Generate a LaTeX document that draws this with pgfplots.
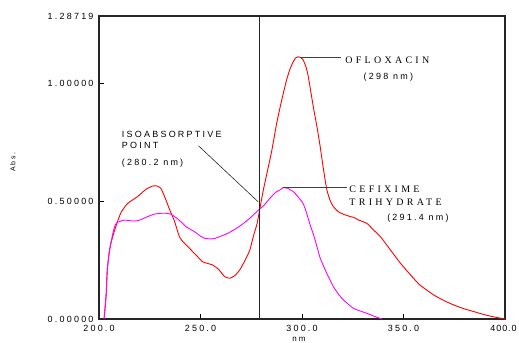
\documentclass[border=0pt]{standalone}
\usepackage{fontspec}
\setmainfont{Liberation Sans}
\newfontfamily\wsans[LetterSpace=25]{Liberation Sans}
\newfontfamily\nsans[LetterSpace=10]{Liberation Sans}
\newfontfamily\wserif[LetterSpace=33]{Liberation Serif}
\usepackage{pgfplots}
\pgfplotsset{compat=1.18}
\definecolor{cred}{RGB}{255,0,0}
\definecolor{cmag}{RGB}{255,0,255}
\begin{document}
\begin{tikzpicture}
\begin{axis}[name=ax, scale only axis, width=406bp, height=303bp,
  xmin=200, xmax=400, ymin=0, ymax=1.28719, clip=false,
  axis line style={line width=1.1pt, black!85},
  xtick={200,250,300,350,400}, xticklabels={200.0,250.0,300.0,350.0,{\nsans\hspace*{-3bp}400.0}},
  ytick={0,0.5,1,1.28719}, yticklabels={0.00000,0.50000,1.00000,1.28719},
  tick style={black, line width=0.8pt}, major tick length=5bp,
  tick align=inside, xtick pos=bottom, ytick pos=left,
  /pgf/number format/assume math mode=true,
  tick label style={font=\wsans\fontsize{9}{10}\selectfont},
  yticklabel style={xshift=-2bp},
  xticklabel style={yshift=-3bp},
]
\addplot[cred, line width=0.9pt, smooth, tension=0.3] coordinates {
(202.5,0) (203.5,0.10) (204.1,0.21) (205.0,0.28) (205.8,0.32) (207.8,0.38)
(210.7,0.45) (214,0.49) (219,0.52) (223,0.55) (226.4,0.565) (228.5,0.565)
(230.5,0.555) (233,0.505) (235,0.46) (237,0.42) (239.6,0.35) (241.2,0.33)
(244.6,0.30) (248,0.27) (251.1,0.243) (256.1,0.229) (259,0.21) (261.9,0.18)
(264.4,0.173) (267,0.185) (269.3,0.208) (272,0.25) (274.3,0.293) (276,0.35)
(277.9,0.406) (279.2,0.467) (281,0.55) (283,0.63) (285,0.71) (287.5,0.83)
(290,0.93) (292.4,1.015) (294,1.06) (295.7,1.093) (297,1.11) (298.2,1.114)
(299.5,1.11) (300.6,1.10) (302,1.07) (303.1,1.03) (305.6,0.90) (307.5,0.81)
(309,0.73) (310.5,0.64) (312.2,0.55) (314,0.50) (315.5,0.477) (318,0.455)
(320.4,0.445) (323.8,0.435) (325.4,0.432) (328,0.42) (332,0.406) (335,0.38)
(338.6,0.35) (343.6,0.293) (348.5,0.237) (353.5,0.187) (358,0.145)
(364.9,0.102) (370,0.078) (374.9,0.059) (380,0.043) (384.8,0.031)
(390,0.018) (395,0.008) (400,0)
};
\addplot[cmag, line width=0.9pt, smooth, tension=0.3] coordinates {
(202.5,0) (203.5,0.10) (204.1,0.21) (205.0,0.28) (205.8,0.32) (207,0.37)
(208,0.40) (209,0.41) (212.4,0.42) (217.3,0.416) (220,0.42) (224,0.435)
(227,0.445) (230.5,0.449) (233,0.449) (235.5,0.445) (238,0.43) (240.4,0.413)
(242.9,0.392) (247,0.371) (250,0.352) (252,0.343) (255,0.34) (257,0.342)
(259.4,0.35) (263,0.362) (267.7,0.385) (271,0.405) (274.3,0.428) (277,0.45)
(278.9,0.466) (281,0.48) (284.2,0.513) (287,0.538) (289.1,0.548)
(290.7,0.558) (293,0.555) (295.7,0.541) (298,0.52) (300.6,0.49)
(302.3,0.449) (304,0.40) (305.6,0.36) (307.3,0.31) (308.9,0.26)
(312.2,0.194) (315.5,0.137) (318,0.105) (320.4,0.081) (325.4,0.045)
(332,0.024) (336,0.01) (339.4,0)
};
% isoabsorptive vertical line
\addplot[black!85, line width=0.9pt] coordinates {(279.1,0) (279.1,1.28719)};
% leader lines
\addplot[black!75, line width=0.7pt] coordinates {(298.8,1.113) (319.3,1.113)};
\addplot[black!75, line width=0.7pt] coordinates {(290.6,0.558) (322.1,0.558)};
\addplot[black!85, line width=0.6pt] coordinates {(249.0,0.736) (278.4,0.498)};
% annotations
\node[anchor=west, inner sep=0, font=\wserif\fontsize{10}{12}\selectfont] at (axis cs:321.3,1.100) {OFLOXACIN};
\node[anchor=west, inner sep=0, font=\wsans\fontsize{9}{10}\selectfont] at (axis cs:330.3,1.029) {(298 nm)};
\node[anchor=west, inner sep=0, font=\wserif\fontsize{10}{12}\selectfont] at (axis cs:323.3,0.551) {CEFIXIME};
\node[anchor=west, inner sep=0, font=\wserif\fontsize{10}{12}\selectfont] at (axis cs:323.3,0.497) {TRIHYDRATE};
\node[anchor=west, inner sep=0, font=\wsans\fontsize{9}{10}\selectfont] at (axis cs:341.9,0.428) {(291.4 nm)};
\node[anchor=west, inner sep=0, font=\wsans\fontsize{9}{10}\selectfont] at (axis cs:211.2,0.785) {ISOABSORPTIVE};
\node[anchor=west, inner sep=0, font=\wsans\fontsize{9}{10}\selectfont] at (axis cs:211.2,0.736) {POINT};
\node[anchor=west, inner sep=0, font=\wsans\fontsize{9}{10}\selectfont] at (axis cs:211.2,0.664) {(280.2 nm)};
\node[rotate=90, inner sep=0, font=\wsans\fontsize{7}{8}\selectfont] at (rel axis cs:-0.212,0.518) {Abs.};
\node[anchor=north, inner sep=0, font=\wsans\fontsize{8}{9}\selectfont] at (rel axis cs:0.4926,-0.058) {nm};
\end{axis}
\pgfresetboundingbox
\path[use as bounding box] ([xshift=-99bp,yshift=-24bp]ax.south west) rectangle ([xshift=14bp,yshift=16bp]ax.north east);
\end{tikzpicture}
\end{document}
